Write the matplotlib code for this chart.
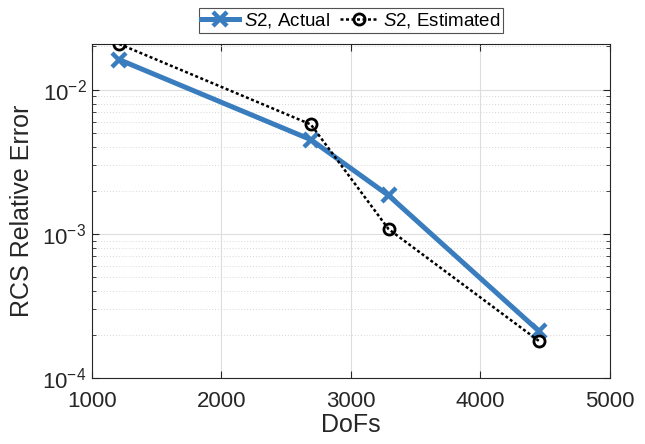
import matplotlib
matplotlib.use("Agg")
import matplotlib.pyplot as plt
from matplotlib.ticker import LogLocator, LogFormatterSciNotation, NullFormatter, FixedLocator

plt.rcParams['font.family'] = ['Liberation Sans', 'DejaVu Sans']
plt.rcParams['mathtext.fontset'] = 'custom'
plt.rcParams['mathtext.rm'] = 'Liberation Sans'
plt.rcParams['mathtext.it'] = 'Liberation Sans:italic'
plt.rcParams['mathtext.bf'] = 'Liberation Sans:bold'

# Data
dofs = [1210, 2690, 3290, 4450]
actual = [0.0162, 0.00451, 0.00185, 2.12e-4]
estimated = [0.0208, 0.00575, 0.00108, 1.81e-4]
x_ticks = [1000, 2000, 3000, 4000, 5000]
labels = [r'$\mathit{S}$2, Actual', r'$\mathit{S}$2, Estimated']

fig = plt.figure(figsize=(6.45, 4.44), dpi=100)
ax = fig.add_axes([92/645, 66/444, (610-92)/645, (378-44)/444])

blue = '#3a7dbe'
ax.plot(dofs, actual, '-', color=blue, lw=3.6, marker='x', ms=10, mew=3.2,
        label=labels[0], zorder=3)
ax.plot(dofs, estimated, color='black', lw=1.8, ls=(0, (1.2, 1.0)), marker='o', ms=8,
        mfc='none', mec='black', mew=2.0, label=labels[1], zorder=4)

ax.set_yscale('log')
ax.set_xlim(1000, 5000)
ax.set_ylim(1e-4, 0.0208)
ax.xaxis.set_major_locator(FixedLocator(x_ticks))
ax.yaxis.set_major_locator(LogLocator(base=10, numticks=10))
ax.yaxis.set_major_formatter(LogFormatterSciNotation())
ax.yaxis.set_minor_locator(LogLocator(base=10, subs=range(2, 10), numticks=20))
ax.yaxis.set_minor_formatter(NullFormatter())

tc = '#262626'
for s in ax.spines.values():
    s.set_color('#262626')
    s.set_linewidth(0.8)
ax.tick_params(which='both', direction='in', top=True, right=True, colors=tc,
               labelsize=16)
ax.tick_params(which='major', length=5, width=0.8)
ax.tick_params(which='minor', length=3, width=0.6)
ax.tick_params(axis='x', pad=9)
ax.tick_params(axis='y', pad=4)

ax.grid(which='major', color='#dddddd', lw=0.8, ls='-')
ax.grid(which='minor', axis='y', color='#d6d6d6', lw=0.7, ls=(0, (1, 2)))
ax.set_axisbelow(True)

ax.set_xlabel('DoFs', fontsize=18, color=tc, labelpad=1)
ax.set_ylabel('RCS Relative Error', fontsize=18, color=tc, labelpad=6)

leg = ax.legend(loc='lower center', bbox_to_anchor=(0.5, 1.033), ncol=2,
                fontsize=13.5, frameon=True, fancybox=False, borderaxespad=0,
                handlelength=2.0, handletextpad=0.3, columnspacing=0.5,
                borderpad=0.15)
leg.get_frame().set_edgecolor('#262626')
leg.get_frame().set_linewidth(0.8)

fig.savefig('out.png', dpi=100)
